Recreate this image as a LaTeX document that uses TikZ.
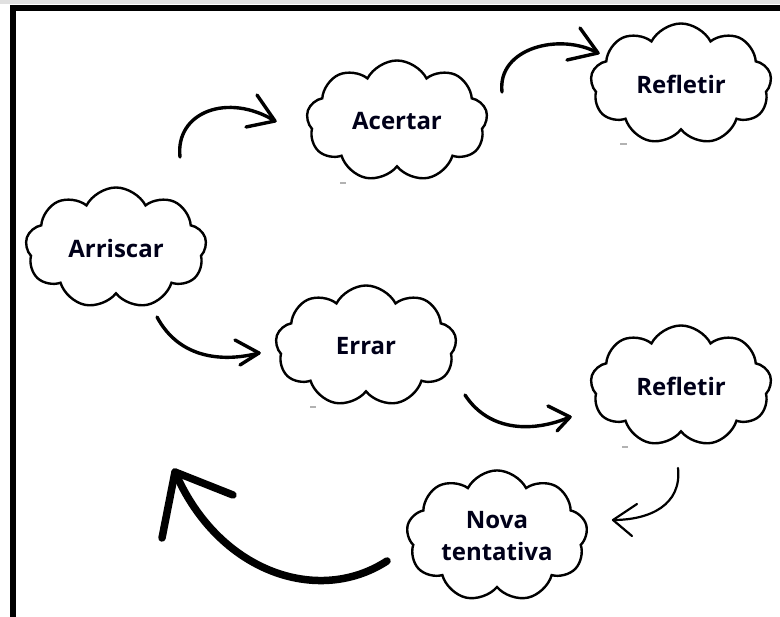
\documentclass[tikz,border=0pt]{standalone}
\usepackage{fontspec}
\setmainfont{Open Sans}
\usetikzlibrary{shapes.symbols}

\begin{document}
\begin{tikzpicture}[x=1bp,y=-1bp,
  cloudbox/.style={cloud, cloud puffs=9, cloud puff arc=125, aspect=1.5,
    draw=black, line width=2.4bp, fill=white,
    minimum width=181bp, minimum height=121bp, inner sep=0pt,
    font=\fontsize{24bp}{32bp}\selectfont\bfseries, align=center,
    text=black!90!blue},
  flow/.style={line width=3.4bp, line cap=round, line join=round},
  thinflow/.style={line width=2.2bp, line cap=round, line join=round},
  heavyflow/.style={line width=7.5bp, line cap=round, line join=round},
  smudge/.style={line width=1.6bp, black!30},
]
\useasboundingbox (0,0) rectangle (780,617);
\fill[white] (0,0) rectangle (780,617);
\fill[black!12] (0,0) rectangle (780,4);
% frame
\draw[line width=6bp] (13,617) -- (13,8) -- (780,8);

% clouds
\node[cloudbox] (arriscar) at (116,248) {Arriscar};
\node[cloudbox] (acertar)  at (397,121) {Acertar};
\node[cloudbox] (refl1)    at (681,84)  {Refletir};
\node[cloudbox] (errar)    at (366,346) {Errar};
\node[cloudbox] (refl2)    at (681,386) {Refletir};
\node[cloudbox] (nova)     at (497,536) {Nova\\tentativa};

% faint marks under the clouds
\draw[smudge] (340,183) -- (346,183);
\draw[smudge] (620,144) -- (627,144);
\draw[smudge] (310,407) -- (316,407);
\draw[smudge] (622,447) -- (628,447);

% arrow ends
\coordinate (a1s) at (180,157); \coordinate (a1t) at (275,121);
\coordinate (a2s) at (502,92);  \coordinate (a2t) at (598,53);
\coordinate (a3s) at (157,317); \coordinate (a3t) at (259,353);
\coordinate (a4s) at (465,395); \coordinate (a4t) at (570,417);
\coordinate (a5s) at (678,468); \coordinate (a5t) at (613,520);
\coordinate (a6s) at (387,561); \coordinate (a6t) at (175,472);

% Arriscar -> Acertar
\draw[flow] (a1s) .. controls (175,112) and (228,92) .. (a1t);
\draw[flow] (257,95) -- (a1t) -- (246,127);
% Acertar -> Refletir
\draw[flow] (a2s) .. controls (497,48) and (560,32) .. (a2t);
\draw[flow] (580,28) -- (a2t) -- (567,60);
% Arriscar -> Errar
\draw[flow] (a3s) .. controls (180,360) and (225,362) .. (a3t);
\draw[flow] (235,340) -- (a3t) -- (240,365);
% Errar -> Refletir
\draw[flow] (a4s) .. controls (490,433) and (535,432) .. (a4t);
\draw[flow] (548,406) -- (a4t) -- (557,431);
% Refletir -> Nova tentativa
\draw[thinflow] (a5s) .. controls (682,505) and (650,520) .. (a5t);
\draw[thinflow] (637,504) -- (a5t) -- (632,536);
% Nova tentativa -> back to Arriscar
\draw[heavyflow] (a6s) .. controls (318,606) and (218,572) .. (a6t);
\draw[heavyflow] (162,538) -- (a6t) -- (233,495);
\end{tikzpicture}
\end{document}
